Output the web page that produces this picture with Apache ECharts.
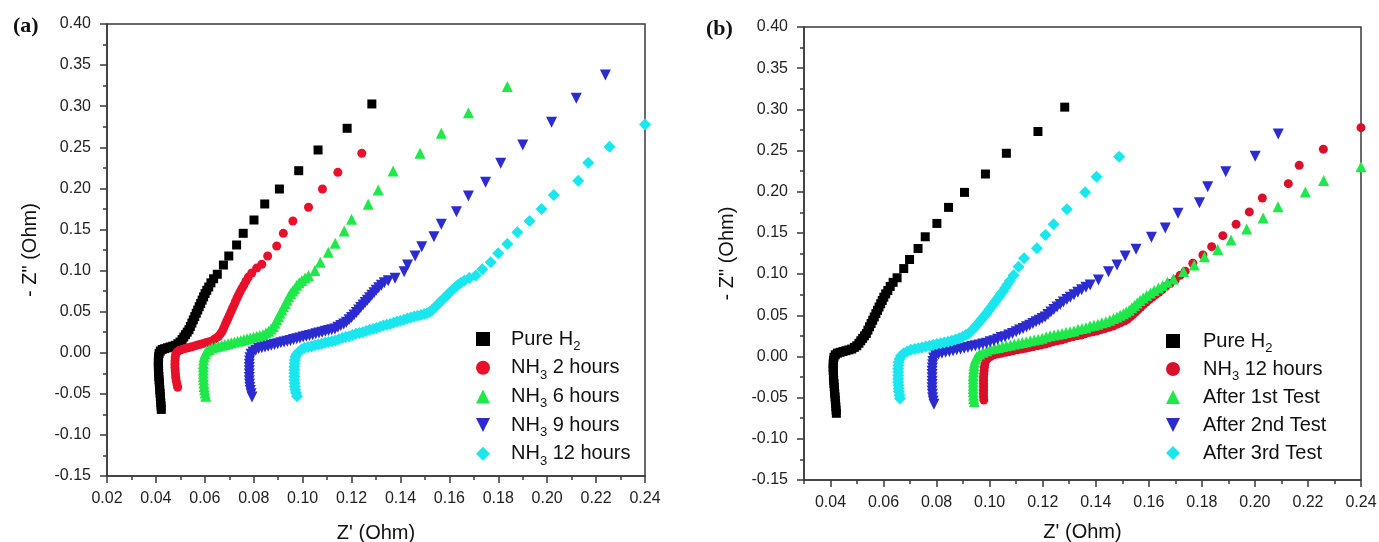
<!DOCTYPE html>
<html><head><meta charset="utf-8">
<script src="https://cdn.jsdelivr.net/npm/echarts@6/dist/echarts.min.js"></script>
<style>html,body{margin:0;padding:0;background:#fff}#c{width:1379px;height:542px}</style>
</head><body><div id="c"></div>
<script>
// ---------- tick labels ----------
const yTicks = [-0.15,-0.10,-0.05,0.00,0.05,0.10,0.15,0.20,0.25,0.30,0.35,0.40];
const xTicksA = [0.02,0.04,0.06,0.08,0.10,0.12,0.14,0.16,0.18,0.20,0.22,0.24];
const xTicksB = [0.04,0.06,0.08,0.10,0.12,0.14,0.16,0.18,0.20,0.22,0.24];
const xMinorB = [0.03,0.05,0.07,0.09,0.11,0.13,0.15,0.17,0.19,0.21,0.23];

// ---------- legend names ----------
const namesA = ['Pure H2','NH3 2 hours','NH3 6 hours','NH3 9 hours','NH3 12 hours'];
const namesB = ['Pure H2 ','NH3 12 hours ','After 1st Test','After 2nd Test','After 3rd Test'];

// ---------- data (Z', -Z'') ----------
const pureH2 = [[0.0422,-0.069],[0.0421,-0.065],[0.0420,-0.061],[0.0419,-0.057],[0.0418,-0.053],[0.0417,-0.049],[0.0416,-0.045],[0.0415,-0.041],[0.0414,-0.037],[0.0413,-0.033],[0.0412,-0.029],[0.0411,-0.025],[0.0411,-0.021],[0.0410,-0.017],[0.0410,-0.013],[0.0410,-0.009],[0.0411,-0.005],[0.0413,-0.001],[0.0418,0.002],[0.0426,0.004],[0.0436,0.005],[0.0447,0.006],[0.0458,0.007],[0.0469,0.008],[0.0480,0.009],[0.0490,0.011],[0.0499,0.013],[0.0507,0.016],[0.0514,0.019],[0.0521,0.022],[0.0528,0.025],[0.0535,0.028],[0.0541,0.032],[0.0547,0.036],[0.0553,0.040],[0.0559,0.044],[0.0565,0.048],[0.0571,0.052],[0.0577,0.056],[0.0583,0.060],[0.0589,0.064],[0.0595,0.068],[0.0601,0.072],[0.0608,0.076],[0.0616,0.080],[0.0625,0.085],[0.0636,0.090],[0.0651,0.0955],[0.0676,0.1067],[0.0698,0.1177],[0.0730,0.1311],[0.0757,0.1453],[0.0801,0.1615],[0.0845,0.1810],[0.0905,0.1992],[0.0984,0.2215],[0.1063,0.2467],[0.1182,0.2731],[0.1283,0.3027]];

const nh3_2h = [[0.0489,-0.042],[0.0486,-0.038],[0.0483,-0.034],[0.0481,-0.030],[0.0480,-0.026],[0.0479,-0.022],[0.0478,-0.018],[0.0478,-0.014],[0.0478,-0.010],[0.0479,-0.006],[0.0481,-0.002],[0.0487,0.001],[0.0496,0.003],[0.0507,0.004],[0.0519,0.005],[0.0531,0.006],[0.0543,0.007],[0.0555,0.008],[0.0567,0.009],[0.0579,0.010],[0.0591,0.011],[0.0603,0.012],[0.0615,0.013],[0.0626,0.014],[0.0637,0.016],[0.0647,0.018],[0.0656,0.020],[0.0664,0.023],[0.0671,0.026],[0.0677,0.030],[0.0683,0.034],[0.0689,0.038],[0.0695,0.042],[0.0701,0.046],[0.0707,0.050],[0.0713,0.054],[0.0719,0.058],[0.0725,0.062],[0.0731,0.066],[0.0737,0.070],[0.0744,0.074],[0.0751,0.078],[0.0759,0.082],[0.0768,0.087],[0.0778,0.092],[0.0792,0.097],[0.0812,0.103],[0.0833,0.1077],[0.0857,0.1177],[0.0894,0.1299],[0.0921,0.1453],[0.0960,0.1603],[0.1024,0.1770],[0.1081,0.1992],[0.1144,0.2195],[0.1242,0.2427]];

const nh3_6h = [[0.0604,-0.053],[0.0601,-0.049],[0.0599,-0.045],[0.0597,-0.041],[0.0596,-0.037],[0.0595,-0.033],[0.0594,-0.029],[0.0594,-0.025],[0.0594,-0.021],[0.0594,-0.017],[0.0594,-0.013],[0.0595,-0.009],[0.0597,-0.005],[0.0601,-0.001],[0.0608,0.002],[0.0618,0.004],[0.0630,0.006],[0.0643,0.007],[0.0656,0.008],[0.0669,0.009],[0.0682,0.010],[0.0695,0.011],[0.0708,0.012],[0.0721,0.013],[0.0734,0.014],[0.0747,0.015],[0.0760,0.016],[0.0773,0.017],[0.0786,0.018],[0.0799,0.019],[0.0812,0.020],[0.0825,0.021],[0.0838,0.022],[0.0850,0.024],[0.0861,0.026],[0.0871,0.029],[0.0880,0.032],[0.0887,0.036],[0.0894,0.040],[0.0901,0.044],[0.0908,0.048],[0.0915,0.052],[0.0922,0.056],[0.0929,0.060],[0.0936,0.064],[0.0943,0.068],[0.0951,0.072],[0.0959,0.075],[0.0967,0.078],[0.0976,0.082],[0.0986,0.085],[0.0997,0.088],[0.1010,0.091],[0.1024,0.094],[0.1050,0.100],[0.1072,0.110],[0.1105,0.1222],[0.1133,0.1331],[0.1170,0.1481],[0.1200,0.1623],[0.1268,0.1806],[0.1309,0.1980],[0.1370,0.2211],[0.1480,0.2426],[0.1567,0.2670],[0.1678,0.2921],[0.1837,0.3238]];

const nh3_9h = [[0.0793,-0.054],[0.0789,-0.050],[0.0786,-0.046],[0.0784,-0.042],[0.0783,-0.038],[0.0782,-0.034],[0.0782,-0.030],[0.0782,-0.026],[0.0782,-0.022],[0.0782,-0.018],[0.0782,-0.014],[0.0783,-0.010],[0.0785,-0.006],[0.0789,-0.002],[0.0797,0.001],[0.0808,0.003],[0.0820,0.005],[0.0833,0.006],[0.0846,0.007],[0.0859,0.008],[0.0872,0.009],[0.0885,0.010],[0.0898,0.011],[0.0911,0.012],[0.0924,0.013],[0.0937,0.014],[0.0950,0.015],[0.0963,0.016],[0.0976,0.017],[0.0989,0.018],[0.1002,0.019],[0.1015,0.020],[0.1028,0.021],[0.1041,0.022],[0.1054,0.023],[0.1067,0.024],[0.1080,0.025],[0.1093,0.026],[0.1106,0.027],[0.1119,0.028],[0.1132,0.029],[0.1144,0.031],[0.1156,0.033],[0.1168,0.035],[0.1179,0.037],[0.1190,0.040],[0.1200,0.043],[0.1210,0.046],[0.1220,0.049],[0.1229,0.052],[0.1238,0.055],[0.1247,0.058],[0.1256,0.061],[0.1265,0.064],[0.1274,0.067],[0.1283,0.070],[0.1292,0.073],[0.1301,0.076],[0.1311,0.079],[0.1322,0.082],[0.1334,0.085],[0.1350,0.0875],[0.1378,0.0905],[0.1415,0.0986],[0.1429,0.1067],[0.1460,0.1177],[0.1487,0.1290],[0.1537,0.1412],[0.1567,0.1563],[0.1629,0.1716],[0.1678,0.1907],[0.1748,0.2074],[0.1810,0.2305],[0.1900,0.2528],[0.2018,0.2804],[0.2119,0.3096],[0.2238,0.3380]];

const nh3_12h = [[0.0977,-0.053],[0.0973,-0.049],[0.0970,-0.045],[0.0968,-0.041],[0.0967,-0.037],[0.0966,-0.033],[0.0966,-0.029],[0.0966,-0.025],[0.0966,-0.021],[0.0966,-0.017],[0.0967,-0.013],[0.0968,-0.009],[0.0971,-0.005],[0.0976,-0.002],[0.0984,0.001],[0.0995,0.004],[0.1008,0.006],[0.1022,0.007],[0.1036,0.008],[0.1050,0.009],[0.1064,0.010],[0.1078,0.011],[0.1092,0.012],[0.1106,0.013],[0.1120,0.014],[0.1134,0.015],[0.1148,0.0165],[0.1162,0.018],[0.1176,0.019],[0.1190,0.020],[0.1204,0.0215],[0.1218,0.023],[0.1232,0.024],[0.1246,0.025],[0.1260,0.0265],[0.1274,0.028],[0.1288,0.029],[0.1302,0.030],[0.1316,0.0315],[0.1330,0.033],[0.1344,0.034],[0.1358,0.035],[0.1372,0.0365],[0.1386,0.038],[0.1400,0.039],[0.1414,0.040],[0.1428,0.0415],[0.1442,0.043],[0.1456,0.044],[0.1470,0.045],[0.1484,0.046],[0.1497,0.047],[0.1509,0.048],[0.1520,0.050],[0.1530,0.052],[0.1540,0.055],[0.1550,0.058],[0.1560,0.061],[0.1570,0.064],[0.1580,0.067],[0.1590,0.070],[0.1600,0.073],[0.1611,0.076],[0.1622,0.079],[0.1634,0.082],[0.1647,0.085],[0.1662,0.088],[0.1682,0.091],[0.1708,0.094],[0.1735,0.1015],[0.1769,0.1100],[0.1800,0.1210],[0.1837,0.1323],[0.1878,0.1465],[0.1928,0.1603],[0.1977,0.1749],[0.2027,0.1919],[0.2127,0.2093],[0.2168,0.2312],[0.2255,0.2507],[0.2400,0.2777]];

const nh3_12h_b = [[0.0978,-0.053],[0.0977,-0.049],[0.0977,-0.045],[0.0977,-0.041],[0.0977,-0.037],[0.0977,-0.033],[0.0977,-0.029],[0.0977,-0.025],[0.0978,-0.021],[0.0979,-0.017],[0.0980,-0.013],[0.0982,-0.009],[0.0986,-0.005],[0.0993,-0.002],[0.1003,0.000],[0.1016,0.002],[0.1030,0.003],[0.1045,0.004],[0.1060,0.005],[0.1075,0.006],[0.1090,0.007],[0.1105,0.008],[0.1120,0.009],[0.1135,0.010],[0.1150,0.011],[0.1165,0.012],[0.1180,0.013],[0.1195,0.014],[0.1210,0.015],[0.1225,0.0165],[0.1240,0.018],[0.1255,0.019],[0.1270,0.020],[0.1285,0.0215],[0.1300,0.023],[0.1315,0.024],[0.1330,0.025],[0.1345,0.026],[0.1360,0.0275],[0.1375,0.029],[0.1390,0.030],[0.1405,0.031],[0.1420,0.0325],[0.1435,0.034],[0.1450,0.0355],[0.1465,0.037],[0.1480,0.039],[0.1494,0.041],[0.1507,0.043],[0.1519,0.045],[0.1530,0.048],[0.1540,0.051],[0.1550,0.054],[0.1560,0.057],[0.1570,0.060],[0.1580,0.063],[0.1591,0.066],[0.1602,0.069],[0.1614,0.072],[0.1626,0.075],[0.1638,0.078],[0.1650,0.081],[0.1663,0.0845],[0.1680,0.0885],[0.1700,0.093],[0.1718,0.0985],[0.1737,0.1035],[0.1766,0.1131],[0.1804,0.1232],[0.1837,0.1333],[0.1879,0.1467],[0.1929,0.1605],[0.1979,0.1755],[0.2028,0.1924],[0.2126,0.2098],[0.2167,0.2320],[0.2258,0.2517],[0.2400,0.2778]];

const after1st = [[0.0942,-0.055],[0.0940,-0.051],[0.0939,-0.047],[0.0938,-0.043],[0.0938,-0.039],[0.0938,-0.035],[0.0938,-0.031],[0.0938,-0.027],[0.0938,-0.023],[0.0939,-0.019],[0.0940,-0.015],[0.0941,-0.011],[0.0943,-0.007],[0.0946,-0.003],[0.0952,0.000],[0.0962,0.003],[0.0975,0.005],[0.0989,0.007],[0.1003,0.009],[0.1018,0.010],[0.1033,0.011],[0.1048,0.012],[0.1063,0.013],[0.1078,0.014],[0.1093,0.015],[0.1108,0.016],[0.1123,0.017],[0.1138,0.018],[0.1153,0.019],[0.1168,0.020],[0.1183,0.021],[0.1198,0.022],[0.1213,0.024],[0.1228,0.025],[0.1243,0.026],[0.1258,0.027],[0.1273,0.028],[0.1288,0.029],[0.1303,0.030],[0.1318,0.031],[0.1333,0.033],[0.1348,0.034],[0.1363,0.035],[0.1378,0.037],[0.1393,0.038],[0.1408,0.039],[0.1423,0.041],[0.1438,0.042],[0.1453,0.044],[0.1467,0.046],[0.1480,0.048],[0.1492,0.050],[0.1504,0.052],[0.1515,0.054],[0.1526,0.056],[0.1536,0.059],[0.1546,0.062],[0.1556,0.065],[0.1567,0.068],[0.1579,0.071],[0.1592,0.074],[0.1606,0.077],[0.1620,0.080],[0.1636,0.083],[0.1652,0.086],[0.1670,0.090],[0.1693,0.094],[0.1731,0.1030],[0.1771,0.1111],[0.1810,0.1212],[0.1860,0.1300],[0.1910,0.1414],[0.1969,0.1546],[0.2031,0.1682],[0.2087,0.1819],[0.2190,0.1997],[0.2259,0.2137],[0.2400,0.2304]];

const after2nd = [[0.0790,-0.058],[0.0787,-0.054],[0.0785,-0.050],[0.0784,-0.046],[0.0783,-0.042],[0.0783,-0.038],[0.0783,-0.034],[0.0783,-0.030],[0.0783,-0.026],[0.0783,-0.022],[0.0783,-0.018],[0.0784,-0.014],[0.0785,-0.010],[0.0786,-0.006],[0.0789,-0.002],[0.0796,0.001],[0.0807,0.003],[0.0820,0.004],[0.0834,0.005],[0.0848,0.006],[0.0862,0.007],[0.0876,0.008],[0.0890,0.009],[0.0904,0.010],[0.0918,0.011],[0.0932,0.012],[0.0946,0.013],[0.0960,0.014],[0.0974,0.015],[0.0988,0.016],[0.1002,0.018],[0.1016,0.019],[0.1030,0.021],[0.1044,0.023],[0.1058,0.024],[0.1072,0.026],[0.1086,0.028],[0.1100,0.030],[0.1113,0.032],[0.1126,0.034],[0.1139,0.036],[0.1151,0.038],[0.1163,0.040],[0.1175,0.042],[0.1187,0.044],[0.1198,0.046],[0.1209,0.048],[0.1220,0.051],[0.1231,0.054],[0.1242,0.057],[0.1254,0.060],[0.1266,0.063],[0.1278,0.066],[0.1291,0.069],[0.1304,0.072],[0.1318,0.075],[0.1332,0.078],[0.1347,0.081],[0.1363,0.084],[0.1379,0.0868],[0.1410,0.0929],[0.1448,0.1029],[0.1480,0.1111],[0.1511,0.1220],[0.1552,0.1303],[0.1610,0.1448],[0.1662,0.1560],[0.1710,0.1738],[0.1791,0.1866],[0.1822,0.2061],[0.1890,0.2243],[0.2001,0.2432],[0.2088,0.2700]];

const after3rd = [[0.0662,-0.051],[0.0660,-0.047],[0.0658,-0.043],[0.0657,-0.039],[0.0656,-0.035],[0.0655,-0.031],[0.0655,-0.027],[0.0655,-0.023],[0.0655,-0.019],[0.0655,-0.015],[0.0656,-0.011],[0.0657,-0.007],[0.0660,-0.003],[0.0666,0.001],[0.0676,0.004],[0.0689,0.006],[0.0703,0.008],[0.0717,0.009],[0.0731,0.010],[0.0745,0.011],[0.0759,0.012],[0.0773,0.013],[0.0787,0.014],[0.0801,0.015],[0.0815,0.016],[0.0829,0.017],[0.0843,0.018],[0.0857,0.019],[0.0871,0.0205],[0.0885,0.022],[0.0898,0.024],[0.0910,0.026],[0.0921,0.028],[0.0931,0.031],[0.0940,0.034],[0.0948,0.037],[0.0956,0.040],[0.0964,0.043],[0.0972,0.046],[0.0980,0.049],[0.0987,0.052],[0.0994,0.055],[0.1001,0.058],[0.1008,0.061],[0.1015,0.064],[0.1022,0.067],[0.1029,0.070],[0.1036,0.073],[0.1043,0.076],[0.1050,0.079],[0.1058,0.083],[0.1066,0.087],[0.1076,0.092],[0.1090,0.0985],[0.1109,0.1090],[0.1130,0.1192],[0.1178,0.1314],[0.1210,0.1475],[0.1241,0.1605],[0.1291,0.1787],[0.1360,0.1993],[0.1403,0.2183],[0.1488,0.2426]];

// ---------- styling ----------
const FONT = 'Liberation Sans, Arial, Helvetica, sans-serif';
const AX = '#3a3a3a';
const C_BLACK = '#000000', C_RED = '#e8102a', C_GREEN = '#1ee84a', C_BLUE = '#2b2bd0', C_CYAN = '#1ae6ee';
const DOWN_TRI = 'path://M0,0L10,0L5,10Z';

const legendFmt = {
  'Pure H2': '{g| }Pure H{s|2}',
  'NH3 2 hours': '{g| }NH{s|3} 2 hours',
  'NH3 6 hours': '{g| }NH{s|3} 6 hours',
  'NH3 9 hours': '{g| }NH{s|3} 9 hours',
  'NH3 12 hours': '{g| }NH{s|3} 12 hours',
  'Pure H2 ': '{h| }Pure H{s|2}',
  'NH3 12 hours ': '{h| }NH{s|3} 12 hours',
  'After 1st Test': '{h| }After 1st Test',
  'After 2nd Test': '{h| }After 2nd Test',
  'After 3rd Test': '{h| }After 3rd Test'
};
const legendRich = {
  g: { width: 16, fontSize: 20, lineHeight: 28 },
  h: { width: 18, fontSize: 20, lineHeight: 28 },
  s: { fontSize: 13, lineHeight: 13, verticalAlign: 'top', padding: [15, 0, 0, 0], fontFamily: FONT, color: '#111' }
};

function yAxisCfg(grid) {
  return {
    type: 'value', gridIndex: grid, min: -0.15, max: 0.40, interval: 0.05,
    name: '- Z" (Ohm)', nameLocation: 'middle', nameGap: 67, nameRotate: 90,
    nameTextStyle: { fontFamily: FONT, fontSize: 20, color: '#111' },
    axisLine: { show: true, lineStyle: { color: AX, width: 1.5 } },
    axisTick: { show: true, inside: false, length: 7, lineStyle: { color: AX, width: 1.5 } },
    minorTick: { show: true, splitNumber: 2, length: 4, lineStyle: { color: AX, width: 1.5 } },
    axisLabel: { margin: 16, fontFamily: FONT, fontSize: 16, color: '#222', formatter: v => v.toFixed(2) },
    splitLine: { show: false }
  };
}

function scatter(name, data, xi, yi, symbol, size, color) {
  return {
    type: 'scatter', name, data, xAxisIndex: xi, yAxisIndex: yi,
    symbol, symbolSize: size,
    itemStyle: { color, opacity: 1 }, clip: true, silent: true
  };
}

const chart = echarts.init(document.getElementById('c'), null, { renderer: 'canvas' });
chart.setOption({
  backgroundColor: '#ffffff',
  animation: false,
  title: [
    { left: 8, top: 10, text: '{p|(}{b|a}{p|)}', textStyle: { rich: {
      p: { fontFamily: 'Liberation Serif, DejaVu Serif, serif', fontSize: 22, color: '#111' },
      b: { fontFamily: 'Liberation Serif, DejaVu Serif, serif', fontSize: 22, fontWeight: 'bold', color: '#111' } } } },
    { left: 701, top: 13, text: '{p|(}{b|b}{p|)}', textStyle: { rich: {
      p: { fontFamily: 'Liberation Serif, DejaVu Serif, serif', fontSize: 22, color: '#111' },
      b: { fontFamily: 'Liberation Serif, DejaVu Serif, serif', fontSize: 22, fontWeight: 'bold', color: '#111' } } } }
  ],
  grid: [
    { left: 107, top: 24, width: 538, height: 452, outerBoundsMode: 'none', containLabel: false, show: true, borderColor: AX, borderWidth: 1.5, backgroundColor: 'transparent' },
    { left: 804, top: 27, width: 557, height: 453, outerBoundsMode: 'none', containLabel: false, show: true, borderColor: AX, borderWidth: 1.5, backgroundColor: 'transparent' }
  ],
  xAxis: [
    {
      type: 'value', gridIndex: 0, min: 0.02, max: 0.24, interval: 0.02,
      name: "Z' (Ohm)", nameLocation: 'middle', nameGap: 47,
      nameTextStyle: { fontFamily: FONT, fontSize: 20, color: '#111' },
      axisLine: { show: true, onZero: false, lineStyle: { color: AX, width: 1.5 } },
      axisTick: { show: true, length: 7, lineStyle: { color: AX, width: 1.5 } },
      minorTick: { show: true, splitNumber: 2, length: 4, lineStyle: { color: AX, width: 1.5 } },
      axisLabel: { margin: 15, fontFamily: FONT, fontSize: 16, color: '#222', formatter: v => v.toFixed(2) },
      splitLine: { show: false }
    },
    {
      type: 'value', gridIndex: 1, min: 0.03, max: 0.24, position: 'bottom',
      name: "Z' (Ohm)", nameLocation: 'middle', nameGap: 42,
      nameTextStyle: { fontFamily: FONT, fontSize: 20, color: '#111' },
      axisLine: { show: true, onZero: false, lineStyle: { color: AX, width: 1.5 } },
      axisTick: { show: true, length: 7, customValues: xTicksB, lineStyle: { color: AX, width: 1.5 } },
      axisLabel: { margin: 15, fontFamily: FONT, fontSize: 16, color: '#222', customValues: xTicksB, formatter: v => v.toFixed(2) },
      splitLine: { show: false }
    },
    {
      type: 'value', gridIndex: 1, min: 0.03, max: 0.24, position: 'bottom', offset: 0,
      axisLine: { show: false, onZero: false },
      axisTick: { show: true, length: 4, customValues: xMinorB, lineStyle: { color: AX, width: 1.5 } },
      axisLabel: { show: false, customValues: xMinorB },
      splitLine: { show: false }
    }
  ],
  yAxis: [ yAxisCfg(0), yAxisCfg(1) ],
  legend: [
    {
      data: namesA, orient: 'vertical', left: 471, top: 320,
      itemWidth: 14, itemHeight: 14, itemGap: 0.7,
      textStyle: { fontFamily: FONT, fontSize: 20, lineHeight: 28, color: '#111', rich: legendRich },
      formatter: n => legendFmt[n], selectedMode: false
    },
    {
      data: namesB, orient: 'vertical', left: 1161, top: 322,
      itemWidth: 14, itemHeight: 14, itemGap: 0,
      textStyle: { fontFamily: FONT, fontSize: 20, lineHeight: 28, color: '#111', rich: legendRich },
      formatter: n => legendFmt[n], selectedMode: false
    }
  ],
  series: [
    scatter('Pure H2', pureH2, 0, 0, 'rect', 9, C_BLACK),
    scatter('NH3 2 hours', nh3_2h, 0, 0, 'circle', 9, C_RED),
    scatter('NH3 6 hours', nh3_6h, 0, 0, 'triangle', 11, C_GREEN),
    scatter('NH3 9 hours', nh3_9h, 0, 0, DOWN_TRI, 11, C_BLUE),
    scatter('NH3 12 hours', nh3_12h, 0, 0, 'diamond', 12, C_CYAN),
    scatter('Pure H2 ', pureH2, 1, 1, 'rect', 9, C_BLACK),
    scatter('NH3 12 hours ', nh3_12h_b, 1, 1, 'circle', 9, '#d8102c'),
    scatter('After 1st Test', after1st, 1, 1, 'triangle', 11, C_GREEN),
    scatter('After 2nd Test', after2nd, 1, 1, DOWN_TRI, 11, C_BLUE),
    scatter('After 3rd Test', after3rd, 1, 1, 'diamond', 12, C_CYAN)
  ]
});
</script>
</body></html>
